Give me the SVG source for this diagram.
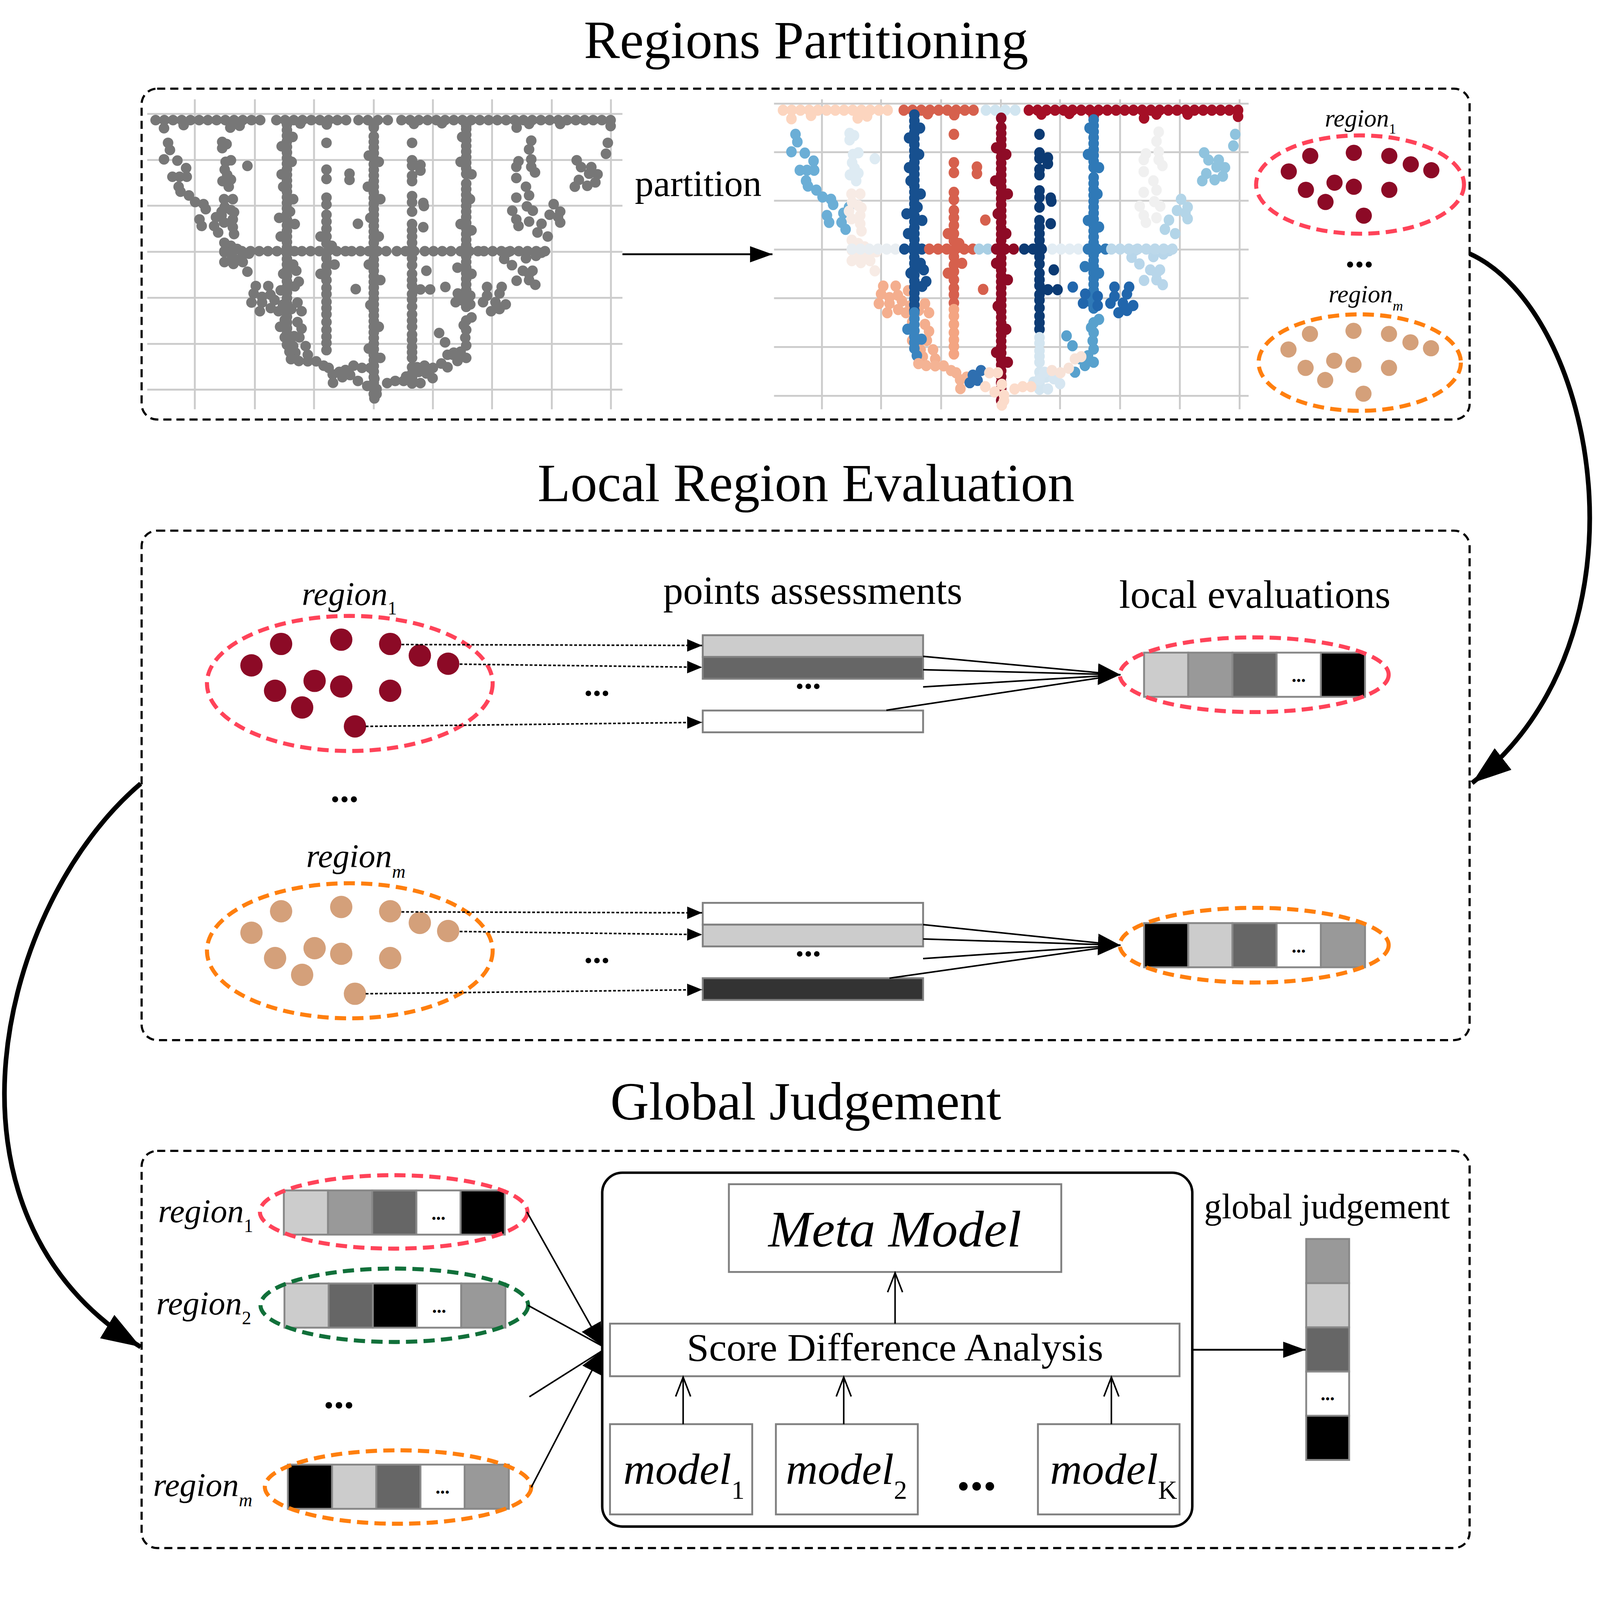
<svg xmlns="http://www.w3.org/2000/svg" xmlns:xlink="http://www.w3.org/1999/xlink" width="5141" height="4984" viewBox="0 0 5141 4984" preserveAspectRatio="xMidYMin meet" style="width:100vw;height:100vh;display:block">
<style>
.pt{fill:none;stroke-width:34;stroke-linecap:round}
.ln{fill:none;stroke-width:34;stroke-linecap:round;stroke-dasharray:0 28}
.lnd{fill:none;stroke-width:34;stroke-linecap:round;stroke-dasharray:0 18}
.grid{stroke:#cccccc;stroke-width:6}
.box{fill:none;stroke:#000;stroke-width:7;stroke-dasharray:26 16}
.t{font-family:"Liberation Serif","Times New Roman",serif;fill:#000}
.it{font-family:"Liberation Serif","Times New Roman",serif;font-style:italic;fill:#000}
.er{fill:none;stroke:#ff4359;stroke-width:13;stroke-dasharray:36 20}
.eo{fill:none;stroke:#ff7f0e;stroke-width:13;stroke-dasharray:36 20}
.eg{fill:none;stroke:#11703a;stroke-width:13;stroke-dasharray:36 20}
.cell{stroke:#888;stroke-width:6}
.gbox{fill:#fff;stroke:#808080;stroke-width:6}
.dash{fill:none;stroke:#000;stroke-width:5;stroke-dasharray:9 6}
.arr{fill:none;stroke:#000;stroke-width:5}
.big{fill:none;stroke:#000;stroke-width:15}
.dots{font-family:"Liberation Serif","Times New Roman",serif;font-weight:bold;text-anchor:middle;fill:#000}
</style>
<defs>
<marker id="mS" markerUnits="userSpaceOnUse" markerWidth="50" markerHeight="40" refX="48" refY="20" orient="auto"><path d="M0 0L48 20L0 40Z"/></marker>
<marker id="mM" markerUnits="userSpaceOnUse" markerWidth="75" markerHeight="70" refX="72" refY="35" orient="auto"><path d="M0 0L72 35L0 70Z"/></marker>
<marker id="mP" markerUnits="userSpaceOnUse" markerWidth="75" markerHeight="52" refX="72" refY="26" orient="auto"><path d="M0 0L72 26L0 52Z"/></marker>
<marker id="mB" markerUnits="userSpaceOnUse" markerWidth="130" markerHeight="90" refX="126" refY="44" orient="auto"><path d="M0 0L126 44L0 88Z"/></marker>
<marker id="mO" markerUnits="userSpaceOnUse" markerWidth="70" markerHeight="56" refX="64" refY="27" orient="auto"><path d="M2 3L64 27L2 51" fill="none" stroke="#000" stroke-width="5"/></marker>
<g id="dp">
<circle cx="-160" cy="-92" r="26"/><circle cx="-20" cy="-102" r="26"/><circle cx="94" cy="-92" r="26"/><circle cx="163" cy="-65" r="26"/><circle cx="229" cy="-46" r="26"/><circle cx="-229" cy="-42" r="26"/><circle cx="-82" cy="-6" r="26"/><circle cx="-20" cy="7" r="26"/><circle cx="94" cy="17" r="26"/><circle cx="-174" cy="17" r="26"/><circle cx="-111" cy="56" r="26"/><circle cx="12" cy="100" r="26"/>
</g>
<g id="pts">
<g id="topA"><path class="ln" d="M500 386H860"/><path class="pt" d="M527 412h0M590 402h0M740 410h0M770 404h0"/></g>
<g id="topB"><path class="ln" d="M888 386H1124"/><path class="pt" d="M965 397h0M1050 400h0"/></g>
<g id="topC"><path class="pt" d="M1152 386h0M1182 386h0M1214 386h0M1246 386h0M1201 404h0"/></g>
<g id="topD"><path class="ln" d="M1290 386H1982"/><path class="pt" d="M1330 398h0M1498 404h0M1660 410h0M1700 398h0M1800 398h0M1962 405h0M1420 396h0"/></g>
<g id="diagL"><path class="pt" d="M540 459h0M546 482h0M527 512h0M570 516h0M598 540h0M554 568h0M577 568h0M600 568h0M574 600h0M580 616h0M607 628h0M627 649h0M654 656h0M661 672h0M641 705h0M648 726h0M694 698h0M688 726h0M701 747h0M712 680h0"/></g>
<g id="F1"><path class="pt" d="M714 456h0M728 463h0M714 476h0M725 520h0M742 515h0M722 545h0M730 562h0M715 582h0M742 577h0M795 533h0M735 600h0"/></g>
<g id="F2"><path class="pt" d="M720 640h0M748 640h0M722 665h0M742 675h0M752 682h0M712 692h0M748 705h0M720 715h0M748 730h0M752 752h0M721 780h0M742 790h0M762 800h0M721 810h0M745 822h0M772 832h0M721 842h0M750 848h0M780 842h0M795 873h0M800 815h0"/></g>
<g id="LB"><path class="pt" d="M822 919h0M862 919h0M815 943h0M842 954h0M869 947h0M902 933h0M808 972h0M842 972h0M882 964h0M909 979h0M956 972h0M895 1000h0M936 993h0M969 1000h0M915 1028h0M956 1035h0M922 1056h0M969 1056h0M915 1084h0M962 1084h0M942 1112h0M982 1112h0M989 1140h0M949 1133h0M835 1000h0M870 990h0"/></g>
<g id="A"><path class="lnd" d="M922 400V1000"/><path class="pt" d="M905 470h0M937 520h0M910 600h0M942 640h0M932 680h0M897 700h0M947 720h0M902 760h0M942 850h0M910 880h0M952 870h0M947 920h0M960 905h0M905 560h0M940 440h0"/></g>
<g id="A2"><path class="lnd" d="M922 1000V1112"/><path class="pt" d="M900 1050h0M945 1080h0M930 1130h0"/></g>
<g id="D"><path class="pt" d="M1049 459h0M1049 545h0M1049 575h0M1049 635h0M1049 657h0M1049 690h0M1049 712h0M1049 735h0M1049 760h0M1049 782h0M1030 760h0M1066 790h0M1049 830h0M1049 855h0M1075 850h0M1030 880h0M1049 875h0M1049 900h0M1049 925h0M1049 945h0M1123 558h0M1123 578h0M1150 719h0M1143 929h0M1049 970h0"/></g>
<g id="D2"><path class="pt" d="M1049 990h0M1049 1010h0M1049 1035h0M1049 1060h0M1049 1082h0M1049 1102h0M1049 1125h0"/></g>
<g id="B"><path class="lnd" d="M1201 438V1280"/><path class="pt" d="M1185 500h0M1217 520h0M1182 600h0M1222 640h0M1190 700h0M1217 760h0M1185 850h0M1222 900h0M1190 980h0M1217 1050h0M1185 1120h0M1222 1150h0M1201 410h0"/></g>
<g id="C"><path class="pt" d="M1324 459h0M1324 515h0M1324 532h0M1324 565h0M1324 582h0M1324 630h0M1324 650h0M1324 680h0M1324 720h0M1324 740h0M1324 760h0M1324 780h0M1324 800h0M1324 830h0M1324 852h0M1324 880h0M1324 900h0M1324 918h0M1324 945h0M1324 962h0M1324 985h0M1324 1010h0M1324 1030h0M1324 1050h0M1351 530h0M1351 548h0M1360 652h0M1362 662h0M1360 730h0M1370 870h0M1351 930h0M1382 930h0"/></g>
<g id="C2"><path class="pt" d="M1324 1075h0M1324 1092h0M1324 1115h0M1324 1132h0M1324 1150h0M1324 1180h0M1324 1200h0M1324 1215h0M1324 1232h0M1345 1195h0M1305 1210h0"/></g>
<g id="E"><path class="lnd" d="M1498 415V560M1498 590V1000"/><path class="pt" d="M1485 440h0M1480 520h0M1515 560h0M1480 720h0M1515 740h0M1470 860h0M1515 880h0M1510 640h0M1485 965h0"/></g>
<g id="E2"><path class="pt" d="M1498 1030h0M1498 1060h0M1495 1085h0M1498 1110h0M1480 1130h0M1498 1150h0M1470 1160h0M1455 1140h0M1438 1180h0M1411 1070h0M1430 1100h0M1515 1020h0M1490 1045h0"/></g>
<g id="RB"><path class="pt" d="M1471 943h0M1464 971h0M1511 950h0M1511 978h0M1565 922h0M1612 922h0M1565 950h0M1605 943h0M1552 971h0M1592 971h0M1625 978h0M1578 1000h0M1605 993h0M1431 922h0"/></g>
<g id="G"><path class="pt" d="M1707 452h0M1700 480h0M1707 512h0M1666 518h0M1659 536h0M1707 536h0M1719 554h0M1659 572h0M1700 628h0M1659 635h0M1693 663h0M1646 677h0M1712 677h0M1659 705h0M1700 712h0M1666 726h0M1690 600h0"/></g>
<g id="G2"><path class="pt" d="M1632 810h0M1620 832h0M1645 852h0M1680 870h0M1700 880h0M1690 830h0M1722 822h0M1740 812h0M1660 902h0M1700 900h0M1711 870h0M1720 915h0"/></g>
<g id="diagR"><path class="pt" d="M1953 459h0M1947 494h0M1853 515h0M1867 537h0M1900 537h0M1893 558h0M1860 578h0M1913 586h0M1847 600h0M1887 597h0M1920 560h0"/></g>
<g id="diagR2"><path class="pt" d="M1779 656h0M1766 690h0M1793 697h0M1800 715h0M1740 719h0M1727 747h0M1760 760h0M1800 680h0"/></g>
<g id="midL"><path class="ln" d="M721 807H870"/></g>
<g id="midA"><path class="ln" d="M890 807H950"/></g>
<g id="midR"><path class="ln" d="M970 807H1120"/></g>
<g id="midLB"><path class="ln" d="M1130 807H1170"/></g>
<g id="midB"><path class="ln" d="M1185 807H1255"/></g>
<g id="midC"><path class="ln" d="M1275 807H1350"/></g>
<g id="midW"><path class="ln" d="M1365 807H1470"/></g>
<g id="midE"><path class="ln" d="M1480 807H1540"/></g>
<g id="midR2"><path class="ln" d="M1555 807H1752"/></g>
<g id="botA"><path class="pt" d="M935 1154h0M960 1160h0M989 1161h0M1016 1161h0M1040 1175h0M1056 1182h0M1069 1203h0M1070 1230h0M1090 1195h0"/></g>
<g id="botB"><path class="pt" d="M1110 1189h0M1136 1175h0M1100 1212h0M1125 1205h0"/></g>
<g id="botC"><path class="pt" d="M1163 1182h0M1190 1182h0M1150 1224h0M1203 1217h0M1210 1250h0M1210 1266h0M1244 1231h0M1270 1224h0M1297 1224h0M1203 1280h0M1180 1240h0"/></g>
<g id="botD"><path class="pt" d="M1324 1203h0M1351 1231h0M1340 1180h0M1370 1200h0M1390 1215h0"/></g>
<g id="botE"><path class="pt" d="M1364 1175h0M1391 1182h0M1418 1168h0M1438 1140h0M1458 1133h0"/></g>
</g>
</defs>
<rect width="5141" height="4984" fill="#fff"/>

<!-- titles -->
<g id="title-partitioning"><text class="t" x="2590" y="187" font-size="172" text-anchor="middle" textLength="1428" lengthAdjust="spacingAndGlyphs">Regions Partitioning</text></g>
<g id="title-local"><text class="t" x="2590" y="1610" font-size="172" text-anchor="middle" textLength="1725" lengthAdjust="spacingAndGlyphs">Local Region Evaluation</text></g>
<g id="title-global"><text class="t" x="2589" y="3597" font-size="172" text-anchor="middle" textLength="1256" lengthAdjust="spacingAndGlyphs">Global Judgement</text></g>

<!-- section frames -->
<g id="frame-1"><rect class="box" x="455" y="285" width="4267" height="1063" rx="50"/></g>
<g id="frame-2"><rect class="box" x="455" y="1705" width="4267" height="1637" rx="50"/></g>
<g id="frame-3"><rect class="box" x="455" y="3698" width="4267" height="1276" rx="50"/></g>

<!-- left scatter -->
<g id="scatter-raw">
<path class="grid" d="M473 366H2000M473 514H2000M473 661H2000M473 809H2000M473 957H2000M473 1105H2000M473 1252H2000M626 319V1315M819 319V1315M1009 319V1315M1201 319V1315M1391 319V1315M1581 319V1315M1773 319V1315M1963 319V1315"/>
<use href="#pts" xlink:href="#pts" stroke="#777777"/>
</g>

<!-- right scatter -->
<g id="scatter-partitioned">
<path class="grid" d="M2487 333H4012M2487 489H4012M2487 645H4012M2487 802H4012M2487 958H4012M2487 1115H4012M2487 1272H4012M2641 319V1315M2831 319V1315M3024 319V1315M3216 319V1315M3406 319V1315M3599 319V1315M3791 319V1315M3983 319V1315"/>
<g transform="matrix(1 0 0 1.06 2016 -55)">
<use href="#topA" stroke="#fcd5bf"/>
<use href="#topB" stroke="#d6604d"/>
<use href="#topC" stroke="#d1e5f0"/>
<use href="#topD" stroke="#a50f26"/>
<use href="#diagL" stroke="#6baed6"/>
<use href="#F1" stroke="#deebf3"/>
<use href="#F2" stroke="#f7ebe5"/>
<use href="#LB" stroke="#f4ae8e"/>
<use href="#A" stroke="#17508f"/>
<use href="#A2" stroke="#3a84bf"/>
<use href="#D" stroke="#d6604d"/>
<use href="#D2" stroke="#f4a582"/>
<use href="#B" stroke="#8e0b26"/>
<use href="#C" stroke="#0c3b74"/>
<use href="#C2" stroke="#d3e5f0"/>
<use href="#E" stroke="#2f79b7"/>
<use href="#E2" stroke="#58a1cd"/>
<use href="#RB" stroke="#2166ac"/>
<use href="#G" stroke="#f0f0f0"/>
<use href="#G2" stroke="#b8d6ea"/>
<use href="#diagR" stroke="#8fc3de"/>
<use href="#diagR2" stroke="#b3d5e8"/>
<use href="#midL" stroke="#e9eef2"/>
<use href="#midA" stroke="#17508f"/>
<use href="#midR" stroke="#d6604d"/>
<use href="#midLB" stroke="#a9cfe4"/>
<use href="#midB" stroke="#8e0b26"/>
<use href="#midC" stroke="#0c3b74"/>
<use href="#midW" stroke="#e3edf4"/>
<use href="#midE" stroke="#2f79b7"/>
<use href="#midR2" stroke="#bcd8ea"/>
<use href="#botA" stroke="#f4b394"/>
<use href="#botB" stroke="#2f6fb0"/>
<use href="#botC" stroke="#fcdccb"/>
<use href="#botD" stroke="#d6e6f1"/>
<use href="#botE" stroke="#f7e2d7"/>
</g>
</g>

<g id="label-partition"><text class="t" x="2040" y="630" font-size="120" textLength="407" lengthAdjust="spacingAndGlyphs">partition</text></g>

<!-- top regions -->
<g id="top-region-1">
<text class="it" x="4257" y="407" font-size="80">region<tspan font-size="46" dy="22" font-style="normal">1</tspan></text>
<use href="#dp" transform="translate(4370 593)" fill="#8c0a26"/>
<ellipse class="er" cx="4370" cy="593" rx="334" ry="158"/>
</g>
<g id="top-dots"><text class="dots" x="4368" y="859" font-size="120">...</text></g>
<g id="top-region-m">
<text class="it" x="4269" y="972" font-size="80">region<tspan font-size="46" dy="26">m</tspan></text>
<use href="#dp" transform="translate(4369 1165)" fill="#d4a07a"/>
<ellipse class="eo" cx="4369" cy="1165" rx="325" ry="155"/>
</g>

<!-- middle section -->
<g id="mid-region-1">
<text class="it" x="970" y="1944" font-size="107">region<tspan font-size="60" dy="30" font-style="normal">1</tspan></text>
<use href="#dp" transform="translate(1124 2196) scale(1.38)" fill="#8c0a26"/>
<ellipse class="er" cx="1124" cy="2196" rx="459" ry="217"/>
</g>
<g id="mid-region-m">
<text class="it" x="984" y="2787" font-size="107">region<tspan font-size="60" dy="33">m</tspan></text>
<use href="#dp" transform="translate(1124 3055) scale(1.38)" fill="#d4a07a"/>
<ellipse class="eo" cx="1124" cy="3055" rx="459" ry="217"/>
</g>
<g id="mid-dots">
<text class="dots" x="1107" y="2577" font-size="120">...</text>
<text class="dots" x="1918" y="2236" font-size="110">...</text>
<text class="dots" x="2597" y="2213" font-size="110">...</text>
<text class="dots" x="1918" y="3094" font-size="110">...</text>
<text class="dots" x="2597" y="3072" font-size="110">...</text>
</g>
<g id="label-points"><text class="t" x="2131" y="1940" font-size="128" textLength="961" lengthAdjust="spacingAndGlyphs">points assessments</text></g>
<g id="label-local"><text class="t" x="3596" y="1953" font-size="128" textLength="872" lengthAdjust="spacingAndGlyphs">local evaluations</text></g>

<g id="bars-1">
<rect class="gbox" x="2258" y="2041" width="708" height="70" style="fill:#cccccc"/>
<rect class="gbox" x="2258" y="2111" width="708" height="70" style="fill:#666666"/>
<rect class="gbox" x="2258" y="2283" width="708" height="70"/>
</g>
<g id="bars-m">
<rect class="gbox" x="2258" y="2901" width="708" height="70"/>
<rect class="gbox" x="2258" y="2971" width="708" height="70" style="fill:#cccccc"/>
<rect class="gbox" x="2258" y="3143" width="708" height="70" style="fill:#333333"/>
</g>

<g id="local-eval-1">
<rect class="cell" x="3676" y="2097" width="142" height="142" fill="#cccccc"/>
<rect class="cell" x="3818" y="2097" width="142" height="142" fill="#999999"/>
<rect class="cell" x="3960" y="2097" width="142" height="142" fill="#666666"/>
<rect class="cell" x="4102" y="2097" width="142" height="142" fill="#ffffff"/>
<rect class="cell" x="4244" y="2097" width="142" height="142" fill="#000000"/>
<text class="dots" x="4173" y="2192" font-size="60">...</text>
<ellipse class="er" cx="4030" cy="2168" rx="432" ry="120"/>
</g>
<g id="local-eval-m">
<rect class="cell" x="3676" y="2966" width="142" height="142" fill="#000000"/>
<rect class="cell" x="3818" y="2966" width="142" height="142" fill="#cccccc"/>
<rect class="cell" x="3960" y="2966" width="142" height="142" fill="#666666"/>
<rect class="cell" x="4102" y="2966" width="142" height="142" fill="#ffffff"/>
<rect class="cell" x="4244" y="2966" width="142" height="142" fill="#999999"/>
<text class="dots" x="4173" y="3061" font-size="60">...</text>
<ellipse class="eo" cx="4030" cy="3037" rx="432" ry="120"/>
</g>

<!-- bottom section -->
<g id="glob-region-1">
<text class="it" x="508" y="3927" font-size="107">region<tspan font-size="60" dy="32" font-style="normal">1</tspan></text>
<rect class="cell" x="912" y="3825" width="142" height="142" fill="#cccccc"/>
<rect class="cell" x="1054" y="3825" width="142" height="142" fill="#999999"/>
<rect class="cell" x="1196" y="3825" width="142" height="142" fill="#666666"/>
<rect class="cell" x="1338" y="3825" width="142" height="142" fill="#ffffff"/>
<rect class="cell" x="1480" y="3825" width="142" height="142" fill="#000000"/>
<text class="dots" x="1409" y="3920" font-size="60">...</text>
<ellipse class="er" cx="1265" cy="3894" rx="430" ry="118"/>
</g>
<g id="glob-region-2">
<text class="it" x="502" y="4223" font-size="107">region<tspan font-size="60" dy="32" font-style="normal">2</tspan></text>
<rect class="cell" x="914" y="4124" width="142" height="142" fill="#cccccc"/>
<rect class="cell" x="1056" y="4124" width="142" height="142" fill="#666666"/>
<rect class="cell" x="1198" y="4124" width="142" height="142" fill="#000000"/>
<rect class="cell" x="1340" y="4124" width="142" height="142" fill="#ffffff"/>
<rect class="cell" x="1482" y="4124" width="142" height="142" fill="#999999"/>
<text class="dots" x="1411" y="4218" font-size="60">...</text>
<ellipse class="eg" cx="1267" cy="4194" rx="430" ry="118"/>
</g>
<g id="glob-dots"><text class="dots" x="1089" y="4525" font-size="130">...</text></g>
<g id="glob-region-m">
<text class="it" x="492" y="4807" font-size="107">region<tspan font-size="60" dy="33">m</tspan></text>
<rect class="cell" x="925" y="4706" width="142" height="142" fill="#000000"/>
<rect class="cell" x="1067" y="4706" width="142" height="142" fill="#cccccc"/>
<rect class="cell" x="1209" y="4706" width="142" height="142" fill="#666666"/>
<rect class="cell" x="1351" y="4706" width="142" height="142" fill="#ffffff"/>
<rect class="cell" x="1493" y="4706" width="142" height="142" fill="#999999"/>
<text class="dots" x="1422" y="4800" font-size="60">...</text>
<ellipse class="eo" cx="1279" cy="4778" rx="428" ry="118"/>
</g>

<g id="ensemble">
<rect x="1935" y="3768" width="1896" height="1137" rx="65" fill="none" stroke="#000" stroke-width="8"/>
</g>
<g id="meta-model">
<rect class="gbox" x="2342" y="3805" width="1068" height="282"/>
<text class="it" x="2469" y="4005" font-size="165" textLength="813" lengthAdjust="spacingAndGlyphs">Meta Model</text>
</g>
<g id="score-diff">
<rect class="gbox" x="1960" y="4253" width="1830" height="169"/>
<text class="t" x="2876" y="4372" font-size="126" text-anchor="middle" textLength="1338" lengthAdjust="spacingAndGlyphs">Score Difference Analysis</text>
</g>
<g id="model-1">
<rect class="gbox" x="1960" y="4576" width="457" height="290"/>
<text class="it" x="2003" y="4768" font-size="142">model<tspan font-size="85" dy="48" font-style="normal">1</tspan></text>
</g>
<g id="model-2">
<rect class="gbox" x="2493" y="4576" width="456" height="290"/>
<text class="it" x="2525" y="4768" font-size="142">model<tspan font-size="85" dy="48" font-style="normal">2</tspan></text>
</g>
<g id="model-dots"><text class="dots" x="3138" y="4787" font-size="170">...</text></g>
<g id="model-k">
<rect class="gbox" x="3335" y="4576" width="455" height="290"/>
<text class="it" x="3374" y="4768" font-size="142">model<tspan font-size="85" dy="48" font-style="normal">K</tspan></text>
</g>
<g id="global-judgement">
<text class="t" x="3869" y="3915" font-size="113" textLength="790" lengthAdjust="spacingAndGlyphs">global judgement</text>
<rect class="cell" x="4197" y="3981" width="138" height="142" fill="#999999"/>
<rect class="cell" x="4197" y="4123" width="138" height="142" fill="#cccccc"/>
<rect class="cell" x="4197" y="4265" width="138" height="142" fill="#666666"/>
<rect class="cell" x="4197" y="4407" width="138" height="142" fill="#ffffff"/>
<rect class="cell" x="4197" y="4549" width="138" height="142" fill="#000000"/>
<text class="dots" x="4266" y="4500" font-size="60">...</text>
</g>

<!-- connectors -->
<g id="connectors">
<path d="M2000 817H2482" fill="none" stroke="#000" stroke-width="6" marker-end="url(#mP)"/>
<path class="big" d="M4722 815C5130 1000 5330 2050 4730 2516" marker-end="url(#mB)"/>
<path class="big" d="M452 2518C0 2900 -250 3900 452 4328" marker-end="url(#mB)"/>
<path class="dash" d="M1290 2071L2256 2074" marker-end="url(#mS)"/>
<path class="dash" d="M1477 2134L2256 2144" marker-end="url(#mS)"/>
<path class="dash" d="M1175 2334L2256 2321" marker-end="url(#mS)"/>
<path class="dash" d="M1290 2930L2256 2933" marker-end="url(#mS)"/>
<path class="dash" d="M1477 2993L2256 3003" marker-end="url(#mS)"/>
<path class="dash" d="M1175 3193L2256 3180" marker-end="url(#mS)"/>
<path class="arr" d="M2966 2109L3600 2168"/>
<path class="arr" d="M2966 2152L3600 2168" marker-end="url(#mM)"/>
<path class="arr" d="M2966 2207L3600 2168"/>
<path class="arr" d="M2848 2282L3600 2168"/>
<path class="arr" d="M2966 2971L3600 3037"/>
<path class="arr" d="M2966 3017L3600 3037" marker-end="url(#mM)"/>
<path class="arr" d="M2966 3080L3600 3037"/>
<path class="arr" d="M2858 3143L3600 3037"/>
<path class="arr" d="M1693 3894L1935 4325" marker-end="url(#mM)"/>
<path class="arr" d="M1696 4194L1935 4325"/>
<path class="arr" d="M1701 4488L1935 4340"/>
<path class="arr" d="M1707 4779L1935 4340" marker-end="url(#mM)"/>
<path class="arr" d="M2195 4576V4425" marker-end="url(#mO)"/>
<path class="arr" d="M2711 4576V4425" marker-end="url(#mO)"/>
<path class="arr" d="M3571 4576V4425" marker-end="url(#mO)"/>
<path class="arr" d="M2876 4253V4090" marker-end="url(#mO)"/>
<path d="M3832 4337H4195" fill="none" stroke="#000" stroke-width="6" marker-end="url(#mP)"/>
</g>
</svg>
